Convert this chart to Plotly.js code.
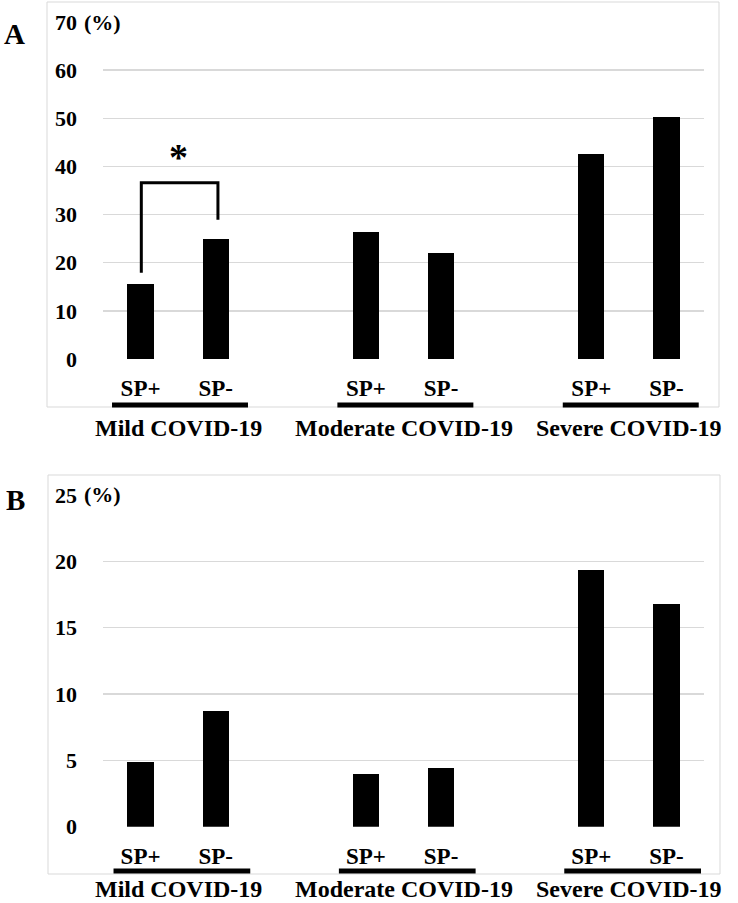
<!DOCTYPE html>
<html>
<head>
<meta charset="utf-8">
<script src="https://cdn.plot.ly/plotly-3.0.1.min.js"></script>
<style>html,body{margin:0;padding:0;background:#fff;}#chart{width:738px;height:903px;}</style>
</head>
<body>
<div id="chart"></div>
<script>
// ---- data ----
const categories = ['Mild COVID-19', 'Moderate COVID-19', 'Severe COVID-19'];
const subgroups = ['SP+', 'SP-'];
const panelA_spPos = [15.5, 26.3, 42.5];
const panelA_spNeg = [25.0, 22.0, 50.3];
const panelB_spPos = [4.85, 4.0, 19.35];
const panelB_spNeg = [8.7, 4.45, 16.75];
const panelA_ticks = [0, 10, 20, 30, 40, 50, 60, 70];
const panelB_ticks = [0, 5, 10, 15, 20, 25];
const sigBracket = {left: 17.9, top: 36.6, right: 28.9, star: 42.8};

// ---- helpers ----
const W = 738, H = 903;
const px = v => v / W, py = v => (H - v) / H;
const serif = 'Liberation Serif, Times New Roman, serif';
const font = (s) => ({family: serif, size: s, color: '#000', weight: 'bold'});
const posOf = (g, s) => g * 3 + s;
const xPos = categories.map((c, g) => posOf(g, 0));
const xNeg = categories.map((c, g) => posOf(g, 1));
const tickvals = [], ticktext = [];
categories.forEach((c, g) => subgroups.forEach((s, i) => { tickvals.push(posOf(g, i)); ticktext.push(s); }));

const bar = (x, y, xa, ya) => ({type: 'bar', x, y, xaxis: xa, yaxis: ya, width: 0.35,
  marker: {color: '#000', line: {width: 0}}, hoverinfo: 'skip', showlegend: false});

const data = [
  bar(xPos, panelA_spPos, 'x', 'y'),
  bar(xNeg, panelA_spNeg, 'x', 'y'),
  bar(xPos, panelB_spPos, 'x2', 'y2'),
  bar(xNeg, panelB_spNeg, 'x2', 'y2')
];

const xdom = [px(103), px(704)];
const xaxisBase = {domain: xdom, range: [-0.5, 7.5], showgrid: false, zeroline: false, showline: false,
  tickvals, ticktext, ticks: '', tickfont: font(23), ticklabelstandoff: 13, fixedrange: true};
const yaxisBase = (ticks, dom) => ({domain: dom, range: [0, ticks[ticks.length - 1]], tickvals: ticks,
  ticktext: ticks.map(String), showgrid: true, gridcolor: '#d9d9d9', gridwidth: 1.5, zeroline: false,
  showline: false, ticks: '', tickfont: font(22), ticklabelstandoff: 25, fixedrange: true});

const shapes = [
  {type: 'rect', xref: 'paper', yref: 'paper', x0: px(47), x1: px(719), y0: py(2), y1: py(407), line: {color: '#d9d9d9', width: 1}},
  {type: 'rect', xref: 'paper', yref: 'paper', x0: px(48), x1: px(720), y0: py(475), y1: py(874), line: {color: '#d9d9d9', width: 1}},
  {type: 'path', xref: 'x', yref: 'y',
   path: `M ${posOf(0,0)+0.01},${sigBracket.left} L ${posOf(0,0)+0.01},${sigBracket.top} L ${posOf(0,1)+0.03},${sigBracket.top} L ${posOf(0,1)+0.03},${sigBracket.right}`,
   line: {color: '#000', width: 3}}
];
categories.forEach((c, g) => {
  shapes.push({type: 'line', xref: 'x', yref: 'paper', x0: posOf(g, 0) - 0.38, x1: posOf(g, 1) + 0.43, y0: py(405), y1: py(405), line: {color: '#000', width: 5}});
  shapes.push({type: 'line', xref: 'x2', yref: 'paper', x0: posOf(g, 0) - 0.36, x1: posOf(g, 1) + 0.46, y0: py(871), y1: py(871), line: {color: '#000', width: 5}});
});

const annotations = [
  {text: 'A', xref: 'paper', yref: 'paper', x: px(14), y: py(34), xanchor: 'center', yanchor: 'middle', showarrow: false, font: font(29)},
  {text: 'B', xref: 'paper', yref: 'paper', x: px(15), y: py(500), xanchor: 'center', yanchor: 'middle', showarrow: false, font: font(29)},
  {text: '(%)', xref: 'paper', yref: 'y', x: px(81), y: panelA_ticks[panelA_ticks.length - 1], xanchor: 'left', yanchor: 'middle', showarrow: false, font: font(22), bgcolor: '#fff', borderpad: 2},
  {text: '(%)', xref: 'paper', yref: 'y2', x: px(81), y: panelB_ticks[panelB_ticks.length - 1], xanchor: 'left', yanchor: 'middle', showarrow: false, font: font(22), bgcolor: '#fff', borderpad: 2},
  {text: '*', xref: 'x', yref: 'y', x: (posOf(0,0) + posOf(0,1)) / 2, y: sigBracket.star, xanchor: 'center', yanchor: 'middle', showarrow: false, font: font(38), yshift: -4}
];
categories.forEach((c, g) => {
  const cx = (posOf(g, 0) + posOf(g, 1)) / 2;
  annotations.push({text: c, xref: 'x', yref: 'paper', x: cx, y: py(428), xanchor: 'center', yanchor: 'middle', showarrow: false, font: font(24)});
  annotations.push({text: c, xref: 'x2', yref: 'paper', x: cx, y: 0, xanchor: 'center', yanchor: 'bottom', borderpad: 0, showarrow: false, font: font(24)});
});

const layout = {
  width: W, height: H, margin: {l: 0, r: 0, t: 0, b: 0},
  paper_bgcolor: '#fff', plot_bgcolor: 'rgba(0,0,0,0)', showlegend: false, bargap: 0,
  xaxis: Object.assign({}, xaxisBase, {anchor: 'y'}),
  yaxis: Object.assign(yaxisBase(panelA_ticks, [py(359), py(22)]), {anchor: 'x'}),
  xaxis2: Object.assign({}, xaxisBase, {anchor: 'y2'}),
  yaxis2: Object.assign(yaxisBase(panelB_ticks, [py(826.7), py(495)]), {anchor: 'x2'}),
  shapes, annotations
};

Plotly.newPlot('chart', data, layout, {displayModeBar: false, staticPlot: true});
</script>
</body>
</html>
